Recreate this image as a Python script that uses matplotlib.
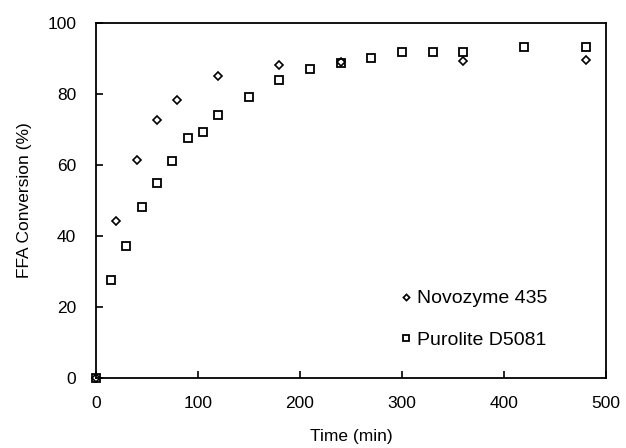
import matplotlib
matplotlib.use("Agg")
import matplotlib.pyplot as plt

plt.rcParams["font.family"] = ["Liberation Sans", "DejaVu Sans"]

# Novozyme 435 (diamonds)
novo_time = [0, 20, 40, 60, 80, 120, 180, 240, 360, 480]
novo_conv = [0, 44.2, 61.4, 72.7, 78.3, 85.1, 88.2, 88.9, 89.3, 89.6]

# Purolite D5081 (squares)
puro_time = [0, 15, 30, 45, 60, 75, 90, 105, 120, 150, 180, 210, 240,
             270, 300, 330, 360, 420, 480]
puro_conv = [0, 27.5, 37.3, 48.3, 54.8, 61.2, 67.7, 69.3, 74.1, 79.0,
             83.8, 87.0, 88.6, 90.1, 91.7, 91.7, 91.9, 93.3, 93.3]

fig = plt.figure(figsize=(6.26, 4.48), dpi=100)
ax = fig.add_axes([0.153, 0.156, 0.815, 0.793])

ax.plot(novo_time, novo_conv, linestyle="none", marker="D", ms=4.2,
        mfc="white", mec="black", mew=1.2, label="Novozyme 435", clip_on=False)
ax.plot(puro_time, puro_conv, linestyle="none", marker="s", ms=6,
        mfc="none", mec="black", mew=1.3, label="Purolite D5081", clip_on=False)

ax.set_xlim(0, 500)
ax.set_ylim(0, 100)
ax.set_xticks([0, 100, 200, 300, 400, 500])
ax.set_yticks([0, 20, 40, 60, 80, 100])
ax.tick_params(direction="in", length=5, width=1.2, labelsize=12.5)
ax.tick_params(axis="x", pad=13)
ax.tick_params(axis="y", pad=14)
for s in ax.spines.values():
    s.set_linewidth(1.3)

ax.set_xlabel("Time (min)", fontsize=12.5, labelpad=13)
ax.set_ylabel("FFA Conversion (%)", fontsize=12.5, labelpad=11)

ax.legend(loc="center left", bbox_to_anchor=(0.565, 0.165), frameon=False,
          fontsize=14, handlelength=0.5, handletextpad=0.3,
          labelspacing=1.25, markerscale=0.75)

fig.savefig("out.png", dpi=100)
